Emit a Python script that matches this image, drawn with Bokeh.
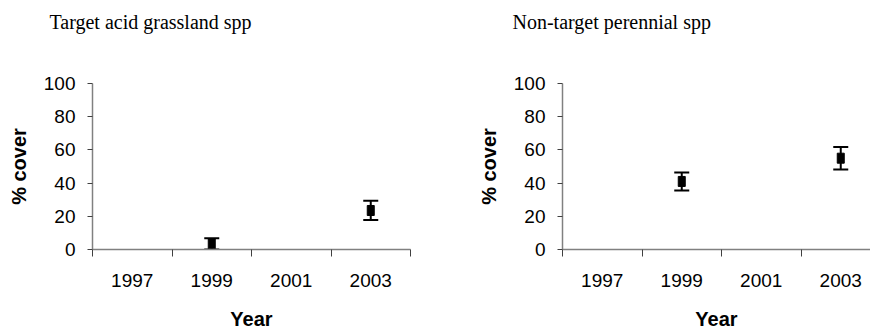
from bokeh.plotting import figure
from bokeh.layouts import row
from bokeh.models import (ColumnDataSource, Range1d, FixedTicker, Whisker,
                          TeeHead, Title)
from bokeh.embed import file_html
from bokeh.resources import INLINE

# ---- data ----
years = ["1997", "1999", "2001", "2003"]
y_ticks = [0, 20, 40, 60, 80, 100]

titles = ["Target acid grassland spp", "Non-target perennial spp"]
target_mean = [None, 3.4, None, 23.5]
target_err = [None, 3.4, None, 5.8]
nontarget_mean = [None, 41.0, None, 55.0]
nontarget_err = [None, 5.4, None, 6.8]

series = [(target_mean, target_err), (nontarget_mean, nontarget_err)]

SANS = "Liberation Sans"
SERIF = "Liberation Serif"
FRAME_H = 166
CAT_W = 79.5


def make_panel(title, means, errs, border_left, border_right, frame_w,
               title_off):
    xs, ms, lo, hi = [], [], [], []
    for i, (m, e) in enumerate(zip(means, errs)):
        if m is None:
            continue
        xs.append(i + 0.5)
        ms.append(m)
        lo.append(max(m - e, 0))
        hi.append(m + e)
    src = ColumnDataSource(dict(x=xs, m=ms, lo=lo, hi=hi))

    p = figure(frame_width=frame_w, frame_height=FRAME_H, title=None,
               output_backend="svg",
               toolbar_location=None, x_range=Range1d(0, frame_w / CAT_W),
               y_range=Range1d(0, 100),
               min_border_left=border_left, min_border_right=border_right,
               min_border_top=83, min_border_bottom=83)
    p.outline_line_color = None
    p.xgrid.visible = False
    p.ygrid.visible = False
    p.background_fill_color = "white"
    p.border_fill_color = "white"

    # blank spacer between the frame and the title
    p.add_layout(Title(text=" ", text_font_size="20px", standoff=0), "above")
    p.add_layout(Title(text=title + "\n ", align="left", offset=title_off,
                       text_font=SERIF, text_font_size="20px",
                       text_font_style="normal", text_color="black"),
                 "above")

    # x axis: categories centred between boundary ticks
    centers = [i + 0.5 for i in range(len(years))]
    p.xaxis.ticker = FixedTicker(ticks=centers,
                                 minor_ticks=list(range(len(years) + 1)))
    p.xaxis.major_label_overrides = {c: y for c, y in zip(centers, years)}
    p.xaxis.major_tick_out = 0
    p.xaxis.major_tick_in = 0
    p.xaxis.minor_tick_out = 7
    p.xaxis.minor_tick_in = 0
    p.xaxis.minor_tick_line_color = "#404040"
    p.xaxis.major_label_standoff = 17
    p.xaxis.axis_label = "Year"
    p.xaxis.axis_label_standoff = 18

    # y axis
    p.yaxis.ticker = FixedTicker(ticks=y_ticks)
    p.yaxis.major_tick_out = 5
    p.yaxis.major_tick_in = 0
    p.yaxis.minor_tick_line_color = None
    p.yaxis.major_label_standoff = 12
    p.yaxis.axis_label = "% cover"
    p.yaxis.axis_label_standoff = 11

    for ax in (p.xaxis, p.yaxis):
        ax.axis_line_color = "#808080"
        ax.axis_line_width = 1.5
        ax.major_tick_line_color = "#404040"
        ax.major_label_text_font = SANS
        ax.major_label_text_font_size = "19px"
        ax.major_label_text_color = "black"
        ax.axis_label_text_font = SANS
        ax.axis_label_text_font_size = "20px"
        ax.axis_label_text_font_style = "bold"
        ax.axis_label_text_color = "black"

    w = Whisker(source=src, base="x", lower="lo", upper="hi",
                dimension="height", line_color="black", line_width=2,
                upper_head=TeeHead(size=15, line_color="black", line_width=2),
                lower_head=TeeHead(size=15, line_color="black", line_width=2))
    p.add_layout(w)
    p.rect(x="x", y="m", width=7, height=10, width_units="screen",
           height_units="screen", source=src, fill_color="black",
           line_color="black")
    return p


p1 = make_panel(titles[0], *series[0], border_left=92, border_right=25,
                frame_w=318, title_off=-43)
p2 = make_panel(titles[1], *series[1], border_left=127, border_right=0,
                frame_w=308, title_off=-50)

layout = row(p1, p2)
open("out.html", "w").write(file_html(layout, INLINE))
